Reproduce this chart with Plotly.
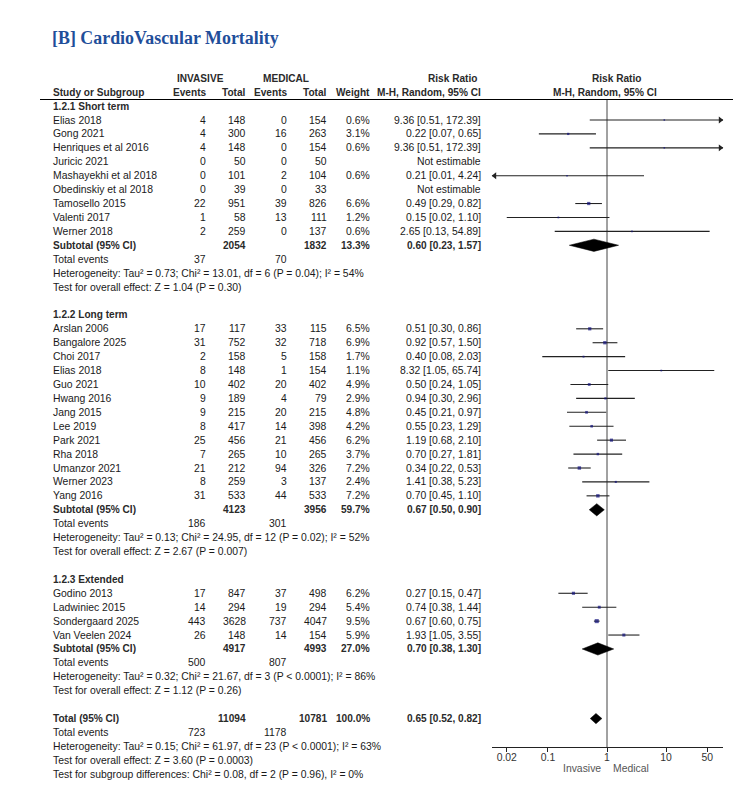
import plotly.graph_objects as go

W, H = 750, 789

# ---------------- data ----------------
short_names = ["Elias 2018", "Gong 2021", "Henriques et al 2016", "Juricic 2021",
               "Mashayekhi et al 2018", "Obedinskiy et al 2018", "Tamosello 2015",
               "Valenti 2017", "Werner 2018"]
short_inv_ev = [4, 4, 4, 0, 0, 0, 22, 1, 2]
short_inv_tot = [148, 300, 148, 50, 101, 39, 951, 58, 259]
short_med_ev = [0, 16, 0, 0, 2, 0, 39, 13, 0]
short_med_tot = [154, 263, 154, 50, 104, 33, 826, 111, 137]
short_weight = [0.6, 3.1, 0.6, None, 0.6, None, 6.6, 1.2, 0.6]
short_rr = [9.36, 0.22, 9.36, None, 0.21, None, 0.49, 0.15, 2.65]
short_lo = [0.51, 0.07, 0.51, None, 0.01, None, 0.29, 0.02, 0.13]
short_hi = [172.39, 0.65, 172.39, None, 4.24, None, 0.82, 1.10, 54.89]

long_names = ["Arslan 2006", "Bangalore 2025", "Choi 2017", "Elias 2018", "Guo 2021",
              "Hwang 2016", "Jang 2015", "Lee 2019", "Park 2021", "Rha 2018",
              "Umanzor 2021", "Werner 2023", "Yang 2016"]
long_inv_ev = [17, 31, 2, 8, 10, 9, 9, 8, 25, 7, 21, 8, 31]
long_inv_tot = [117, 752, 158, 148, 402, 189, 215, 417, 456, 265, 212, 259, 533]
long_med_ev = [33, 32, 5, 1, 20, 4, 20, 14, 21, 10, 94, 3, 44]
long_med_tot = [115, 718, 158, 154, 402, 79, 215, 398, 456, 265, 326, 137, 533]
long_weight = [6.5, 6.9, 1.7, 1.1, 4.9, 2.9, 4.8, 4.2, 6.2, 3.7, 7.2, 2.4, 7.2]
long_rr = [0.51, 0.92, 0.40, 8.32, 0.50, 0.94, 0.45, 0.55, 1.19, 0.70, 0.34, 1.41, 0.70]
long_lo = [0.30, 0.57, 0.08, 1.05, 0.24, 0.30, 0.21, 0.23, 0.68, 0.27, 0.22, 0.38, 0.45]
long_hi = [0.86, 1.50, 2.03, 65.74, 1.05, 2.96, 0.97, 1.29, 2.10, 1.81, 0.53, 5.23, 1.10]

ext_names = ["Godino 2013", "Ladwiniec 2015", "Sondergaard 2025", "Van Veelen 2024"]
ext_inv_ev = [17, 14, 443, 26]
ext_inv_tot = [847, 294, 3628, 148]
ext_med_ev = [37, 19, 737, 14]
ext_med_tot = [498, 294, 4047, 154]
ext_weight = [6.2, 5.4, 9.5, 5.9]
ext_rr = [0.27, 0.74, 0.67, 1.93]
ext_lo = [0.15, 0.38, 0.60, 1.05]
ext_hi = [0.47, 1.44, 0.75, 3.55]

group_labels = ["1.2.1 Short term", "1.2.2 Long term", "1.2.3 Extended"]
sub_inv_tot = [2054, 4123, 4917]
sub_med_tot = [1832, 3956, 4993]
sub_weight = [13.3, 59.7, 27.0]
sub_rr = [0.60, 0.67, 0.70]
sub_lo = [0.23, 0.50, 0.38]
sub_hi = [1.57, 0.90, 1.30]
sub_inv_events = [37, 186, 500]
sub_med_events = [70, 301, 807]
sub_het = ["Heterogeneity: Tau² = 0.73; Chi² = 13.01, df = 6 (P = 0.04); I² = 54%",
           "Heterogeneity: Tau² = 0.13; Chi² = 24.95, df = 12 (P = 0.02); I² = 52%",
           "Heterogeneity: Tau² = 0.32; Chi² = 21.67, df = 3 (P < 0.0001); I² = 86%"]
sub_test = ["Test for overall effect: Z = 1.04 (P = 0.30)",
            "Test for overall effect: Z = 2.67 (P = 0.007)",
            "Test for overall effect: Z = 1.12 (P = 0.26)"]

tot_inv_tot, tot_med_tot, tot_weight = 11094, 10781, 100.0
tot_rr, tot_lo, tot_hi = 0.65, 0.52, 0.82
tot_inv_events, tot_med_events = 723, 1178
tot_het = "Heterogeneity: Tau² = 0.15; Chi² = 61.97, df = 23 (P < 0.0001); I² = 63%"
tot_test = "Test for overall effect: Z = 3.60 (P = 0.0003)"
tot_subgroup = "Test for subgroup differences: Chi² = 0.08, df = 2 (P = 0.96), I² = 0%"

axis_ticks = [0.02, 0.1, 1, 10, 50]
axis_ticktext = ["0.02", "0.1", "1", "10", "50"]

title_text = "[B] CardioVascular Mortality"

# ---------------- layout constants ----------------
ROW0_PX = 120.0
ROW_H = 13.92
X_LOG_MIN, X_LOG_MAX = -1.949, 1.966
PLOT_X0, PLOT_X1 = 492, 723
AXIS_Y_PX = 747.3
HEADER_LINE_PX = 99.5

FONT = "Liberation Sans, Arial, sans-serif"
TXT = "#1a1a1a"
HDR = "#2a2a2a"
REG_SIZE = 10.4
BOLD_SIZE = 10.1

COL_NAME = 51.7
COL_IEV = 206.5
COL_ITOT = 246.5
COL_MEV = 287.5
COL_MTOT = 327.5
COL_W = 370.5
COL_RR = 482.0

groups = [
    (short_names, short_inv_ev, short_inv_tot, short_med_ev, short_med_tot,
     short_weight, short_rr, short_lo, short_hi),
    (long_names, long_inv_ev, long_inv_tot, long_med_ev, long_med_tot,
     long_weight, long_rr, long_lo, long_hi),
    (ext_names, ext_inv_ev, ext_inv_tot, ext_med_ev, ext_med_tot,
     ext_weight, ext_rr, ext_lo, ext_hi),
]


def px_row(p):
    return (p - ROW0_PX) / ROW_H


annotations = []


def txt(text, xpx, row, anchor="right", bold=False, color=TXT):
    size = REG_SIZE
    if bold:
        text = "<b>" + text + "</b>"
        size = BOLD_SIZE
        if color == TXT:
            color = HDR
    annotations.append(dict(
        text=text, x=xpx / W, xref="paper", y=row, yref="y",
        xanchor=anchor, yanchor="middle", showarrow=False,
        font=dict(family=FONT, size=size, color=color), borderpad=0))


def fmt_ci(r, l, h):
    return f"{r:.2f} [{l:.2f}, {h:.2f}]"


fig = go.Figure()

# header
txt("INVASIVE", 200, -3, anchor="center", bold=True)
txt("MEDICAL", 286, -3, anchor="center", bold=True)
txt("Risk Ratio", 452, -3, anchor="center", bold=True)
txt("Risk Ratio", 616.7, -3, anchor="center", bold=True)
txt("Study or Subgroup", COL_NAME, -2, anchor="left", bold=True)
txt("Events", COL_IEV, -2, bold=True)
txt("Total", COL_ITOT, -2, bold=True)
txt("Events", COL_MEV, -2, bold=True)
txt("Total", COL_MTOT, -2, bold=True)
txt("Weight", COL_W, -2, bold=True)
txt("M-H, Random, 95% CI", COL_RR, -2, bold=True)
txt("M-H, Random, 95% CI", 604.5, -2, anchor="center", bold=True)

ci_x, ci_y = [], []
pt_x, pt_y, pt_s = [], [], []
arr_r_x, arr_r_y, arr_l_x, arr_l_y = [], [], [], []
diamonds = []

xmin_val = 10 ** X_LOG_MIN
xmax_val = 10 ** X_LOG_MAX

row = -1
for gi, g in enumerate(groups):
    names, iev, itot, mev, mtot, wts, rrs, los, his = g
    txt(group_labels[gi], COL_NAME, row, anchor="left", bold=True)
    row += 1
    for i, nm in enumerate(names):
        txt(nm, COL_NAME, row, anchor="left")
        txt(str(iev[i]), COL_IEV, row)
        txt(str(itot[i]), COL_ITOT, row)
        txt(str(mev[i]), COL_MEV, row)
        txt(str(mtot[i]), COL_MTOT, row)
        if rrs[i] is None:
            txt("Not estimable", COL_RR, row)
        else:
            txt(f"{wts[i]:.1f}%", COL_W, row)
            txt(fmt_ci(rrs[i], los[i], his[i]), COL_RR, row)
            ci_x += [los[i], his[i], None]
            ci_y += [row, row, None]
            pt_x.append(rrs[i])
            pt_y.append(row)
            pt_s.append(1.4 + 0.28 * wts[i])
            if his[i] > xmax_val:
                arr_r_x.append(10 ** (X_LOG_MAX - 0.045))
                arr_r_y.append(row)
            if los[i] < xmin_val:
                arr_l_x.append(10 ** (X_LOG_MIN + 0.045))
                arr_l_y.append(row)
        row += 1
    # subtotal
    txt("Subtotal (95% CI)", COL_NAME, row, anchor="left", bold=True)
    txt(str(sub_inv_tot[gi]), COL_ITOT, row, bold=True)
    txt(str(sub_med_tot[gi]), COL_MTOT, row, bold=True)
    txt(f"{sub_weight[gi]:.1f}%", COL_W, row, bold=True)
    txt(fmt_ci(sub_rr[gi], sub_lo[gi], sub_hi[gi]), COL_RR, row, bold=True)
    diamonds.append((sub_rr[gi], sub_lo[gi], sub_hi[gi], row, 0.44))
    row += 1
    txt("Total events", COL_NAME, row, anchor="left")
    txt(str(sub_inv_events[gi]), COL_IEV, row)
    txt(str(sub_med_events[gi]), COL_MEV, row)
    row += 1
    txt(sub_het[gi], COL_NAME, row, anchor="left")
    row += 1
    txt(sub_test[gi], COL_NAME, row, anchor="left")
    row += 2

# overall
txt("Total (95% CI)", COL_NAME, row, anchor="left", bold=True)
txt(str(tot_inv_tot), COL_ITOT, row, bold=True)
txt(str(tot_med_tot), COL_MTOT, row, bold=True)
txt(f"{tot_weight:.1f}%", COL_W, row, bold=True)
txt(fmt_ci(tot_rr, tot_lo, tot_hi), COL_RR, row, bold=True)
diamonds.append((tot_rr, tot_lo, tot_hi, row, 0.37))
row += 1
txt("Total events", COL_NAME, row, anchor="left")
txt(str(tot_inv_events), COL_IEV, row)
txt(str(tot_med_events), COL_MEV, row)
row += 1
txt(tot_het, COL_NAME, row, anchor="left")
row += 1
txt(tot_test, COL_NAME, row, anchor="left")
row += 1
txt(tot_subgroup, COL_NAME, row, anchor="left")

# null line at RR = 1
fig.add_trace(go.Scatter(x=[1, 1], y=[px_row(HEADER_LINE_PX), px_row(AXIS_Y_PX)],
                         mode="lines", line=dict(color="#444", width=1),
                         hoverinfo="skip", showlegend=False))

# CI lines
fig.add_trace(go.Scatter(x=ci_x, y=ci_y, mode="lines",
                         line=dict(color="#222", width=1.1),
                         hoverinfo="skip", showlegend=False))
# arrows
fig.add_trace(go.Scatter(x=arr_r_x, y=arr_r_y, mode="markers",
                         marker=dict(symbol="triangle-right", size=6, color="#222"),
                         cliponaxis=False, hoverinfo="skip", showlegend=False))
fig.add_trace(go.Scatter(x=arr_l_x, y=arr_l_y, mode="markers",
                         marker=dict(symbol="triangle-left", size=6, color="#222"),
                         cliponaxis=False, hoverinfo="skip", showlegend=False))
# point estimates
fig.add_trace(go.Scatter(x=pt_x, y=pt_y, mode="markers",
                         marker=dict(symbol="square", size=pt_s, color="#10107a",
                                     line=dict(width=0)),
                         hoverinfo="skip", showlegend=False))
# diamonds
for est, lo, hi, r, h in diamonds:
    fig.add_trace(go.Scatter(x=[lo, est, hi, est, lo], y=[r, r - h, r, r + h, r],
                             mode="lines", fill="toself", fillcolor="black",
                             line=dict(color="black", width=0.5),
                             hoverinfo="skip", showlegend=False))

# title
annotations.append(dict(text="<b>" + title_text + "</b>", x=51 / W, xref="paper",
                        y=1 - 38 / H, yref="paper", xanchor="left", yanchor="middle",
                        showarrow=False, borderpad=0,
                        font=dict(family="Liberation Serif, Times New Roman, serif",
                                  size=17.9, color="#1f4e9a")))
# favours labels
annotations.append(dict(text="Invasive", x=602 / W, xref="paper", y=1 - 768.5 / H,
                        yref="paper", xanchor="right", yanchor="middle", showarrow=False,
                        borderpad=0, font=dict(family=FONT, size=REG_SIZE, color="#555")))
annotations.append(dict(text="Medical", x=612 / W, xref="paper", y=1 - 768.5 / H,
                        yref="paper", xanchor="left", yanchor="middle", showarrow=False,
                        borderpad=0, font=dict(family=FONT, size=REG_SIZE, color="#555")))

shapes = [dict(type="line", xref="paper", yref="paper", x0=40 / W, x1=733 / W,
               y0=1 - HEADER_LINE_PX / H, y1=1 - HEADER_LINE_PX / H,
               line=dict(color="black", width=1))]

fig.update_layout(
    width=W, height=H, margin=dict(l=0, r=0, t=0, b=0),
    paper_bgcolor="white", plot_bgcolor="white",
    annotations=annotations, shapes=shapes,
    xaxis=dict(type="log", range=[X_LOG_MIN, X_LOG_MAX],
               domain=[PLOT_X0 / W, PLOT_X1 / W], anchor="free",
               position=1 - AXIS_Y_PX / H,
               tickvals=axis_ticks, ticktext=axis_ticktext,
               ticks="outside", ticklen=4, tickcolor="#222", tickwidth=1,
               ticklabelstandoff=-4,
               showline=True, linecolor="#222", linewidth=1,
               showgrid=False, zeroline=False,
               tickfont=dict(family=FONT, size=REG_SIZE, color="#333")),
    yaxis=dict(range=[px_row(H), px_row(0)], domain=[0, 1], visible=False,
               showgrid=False, zeroline=False, fixedrange=True),
)

fig.write_html("out.html", config={"displayModeBar": False},
               post_script="document.body.style.margin='0';")
